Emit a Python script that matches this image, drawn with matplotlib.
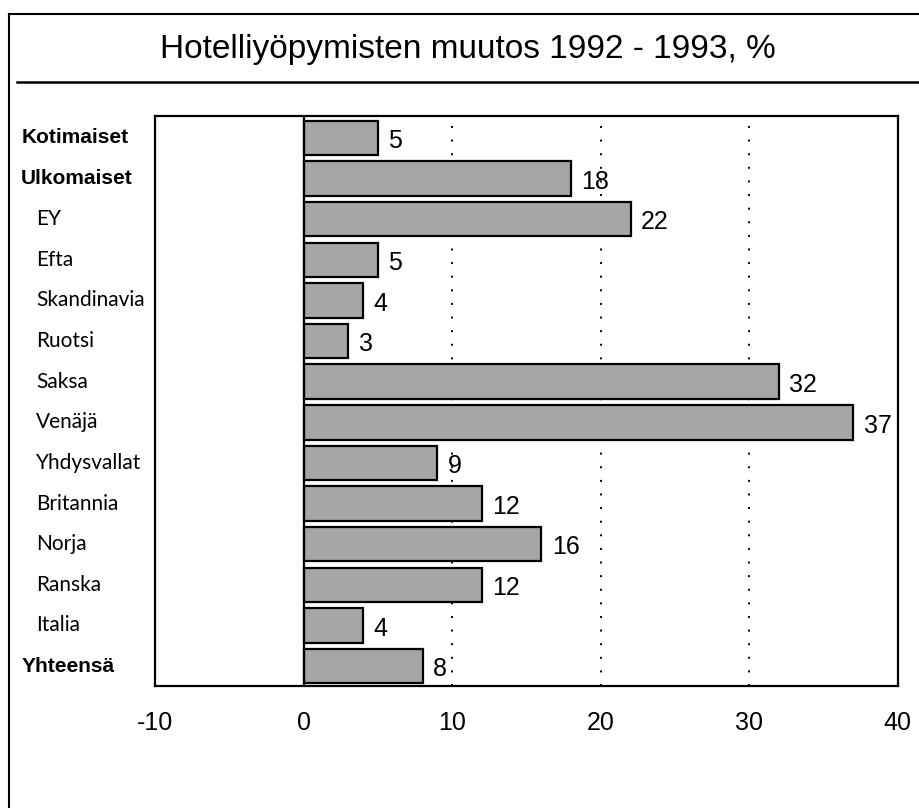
import matplotlib.pyplot as plt
import matplotlib.transforms as mtransforms
from matplotlib.lines import Line2D

plt.rcParams['font.family'] = ['Liberation Sans', 'DejaVu Sans']

# Data
categories = ["Kotimaiset", "Ulkomaiset", "EY", "Efta", "Skandinavia", "Ruotsi",
              "Saksa", "Venäjä", "Yhdysvallat", "Britannia", "Norja", "Ranska",
              "Italia", "Yhteensä"]
values = [5, 18, 22, 5, 4, 3, 32, 37, 9, 12, 16, 12, 4, 8]
bold_rows = ["Kotimaiset", "Ulkomaiset", "Yhteensä"]
xticks = [-10, 0, 10, 20, 30, 40]

fig = plt.figure(figsize=(9.19, 8.08), dpi=100)
ax = fig.add_axes([0.169, 0.151, 0.808, 0.705])

ypos = list(range(len(categories)))
ax.barh(ypos, values, height=0.85, color="#a6a6a6", edgecolor="black",
        linewidth=1.6, zorder=3)

for y, v in zip(ypos, values):
    ax.text(v + 0.7, y + 0.08, str(v), va="center", ha="left", fontsize=18)

# category labels, bold ones flush left, others indented
trans = mtransforms.blended_transform_factory(fig.transFigure, ax.transData)
for y, c in zip(ypos, categories):
    if c in bold_rows:
        ax.text(0.023, y, c, transform=trans, va="center", ha="left",
                fontsize=15, fontweight="bold")
    else:
        ax.text(0.039, y, c, transform=trans, va="center", ha="left",
                fontsize=15, family=["Lato", "DejaVu Sans"])

ax.set_xlim(-10, 40)
ax.set_ylim(13.49, -0.53)
ax.set_yticks([])
ax.set_xticks(xticks)
ax.set_xticklabels([str(t) for t in xticks], fontsize=18)
ax.tick_params(axis="x", length=0, pad=18)

for t in [10, 20, 30]:
    ax.axvline(t, color="black", linestyle=(0, (1, 6)), linewidth=1.4, zorder=1)
ax.axvline(0, color="black", linewidth=1.6, zorder=4)

for s in ax.spines.values():
    s.set_linewidth(1.6)

# outer frame (left and top) and title rule
fig.add_artist(Line2D([0.010, 0.010], [0, 0.983], color="black", linewidth=1.5))
fig.add_artist(Line2D([0.010, 1.0], [0.983, 0.983], color="black", linewidth=1.5))
fig.add_artist(Line2D([0.018, 1.0], [0.899, 0.899], color="black", linewidth=1.8))

fig.text(0.509, 0.928, "Hotelliyöpymisten muutos 1992 - 1993, %", ha="center",
         va="baseline", fontsize=24)

fig.savefig("out.png", dpi=100)
